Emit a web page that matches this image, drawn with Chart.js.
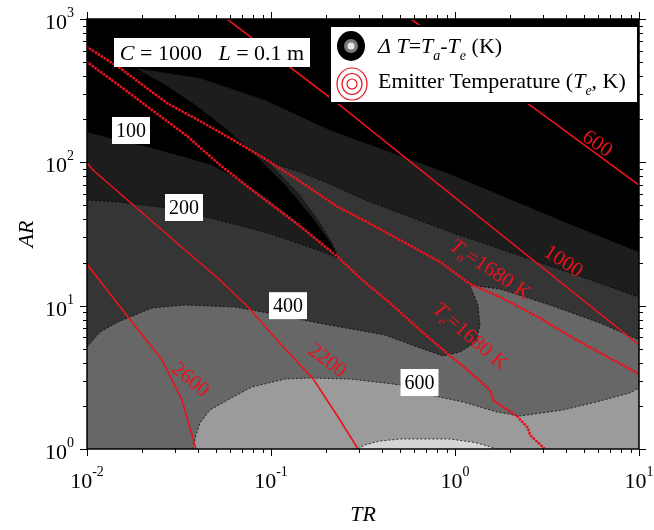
<!DOCTYPE html>
<html>
<head>
<meta charset="utf-8">
<script src="https://cdn.jsdelivr.net/npm/chart.js@4.4.1/dist/chart.umd.min.js"></script>
<style>
  html, body { margin: 0; padding: 0; background: #fff; }
  #wrap { width: 654px; height: 530px; }
</style>
</head>
<body>
<div id="wrap"><canvas id="chart"></canvas></div>
<script>
// axis ranges (TR on x, AR on y, both logarithmic)
const trRange = [0.01, 10];
const arRange = [1, 1000];
const trDecades = [-2, -1, 0, 1];
const arDecades = [0, 1, 2, 3];

// filled bands of ΔT = Ta - Te, each one "ΔT >= level", as [TR, AR] outlines
const zoneFrom100 = [
  [0.01, 162.8], [0.01474, 143.2], [0.02254, 125.9], [0.0341, 109.0], [0.0478, 95.8], [0.0679, 75.3],
  [0.0988, 54.6], [0.1437, 37.1], [0.1965, 26.1], [0.2314, 21.5],
  [0.2093, 27.8], [0.1629, 42.9], [0.1191, 69.5], [0.0818, 112.4], [0.0562, 173.6], [0.0387, 251.2],
  [0.0266, 346.4], [0.01824, 455],
  [0.0411, 387.5], [0.0927, 272.2], [0.2093, 168.1], [0.9397, 82.9], [3.722, 39.6], [10, 23.7],
  [10, 1], [0.01, 1]
];
const zoneFrom200 = [
  [0.01, 54.6], [0.01474, 52.9], [0.02755, 48.0], [0.0516, 39.6], [0.0963, 32.1], [0.18, 24.45], [0.2314, 21.5],
  [0.2174, 26.5], [0.18, 39.6], [0.1402, 61.1], [0.0963, 100.5],
  [0.1437, 85.6], [0.2093, 70.6], [0.3243, 54.6], [0.9397, 32.7], [3.281, 18.9], [10, 11.5],
  [10, 1], [0.01, 1]
];
const zoneFrom400 = [
  [0.01, 5.15], [0.01177, 6.55], [0.01474, 7.69], [0.02254, 9.63], [0.0341, 10.1], [0.0637, 9.79],
  [0.0963, 8.89], [0.18, 7.57], [0.4165, 6.24], [0.6452, 5.07], [0.8606, 4.46], [1.065, 4.75],
  [1.30, 5.58], [1.367, 7.33], [1.334, 10.1], [1.206, 13.9], [1.756, 13.07], [3.281, 10.1],
  [6.136, 7.57], [10, 5.76], [10, 1], [0.01, 1]
];
const zoneFrom600 = [
  [0.0377, 1], [0.0391, 1.252], [0.0411, 1.518], [0.0466, 1.871], [0.0622, 2.306], [0.0788, 2.708],
  [0.1191, 3.078], [0.1629, 3.13], [0.2688, 3.078], [0.4165, 2.888], [0.5024, 2.796], [0.7313, 2.381],
  [1.105, 2.128], [1.692, 1.812], [2.254, 1.699], [3.864, 1.871], [6.136, 2.162], [8.93, 2.459],
  [10, 2.666], [10, 1]
];
const zoneFrom800 = [
  [0.2971, 1], [0.3243, 1.066], [0.3912, 1.137], [0.5024, 1.174], [0.9397, 1.174], [1.284, 1.11], [1.713, 1]
];

// emitter temperature isolines (K)
const te600 = [[0.5766, 1000], [2.556, 251], [10, 69.5]];
const te1000 = [[0.0577, 1000], [0.2285, 259.4], [0.759, 75.3], [10, 5.32]];
const te2200 = [[0.01, 98.9], [0.01078, 88.4], [0.0341, 24.45], [0.0528, 15.1], [0.075, 9.79],
  [0.1079, 5.76], [0.1712, 3.03], [0.2371, 1.593], [0.2971, 1]];
const te2600 = [[0.01, 19.5], [0.0167, 8.34], [0.0256, 4.18], [0.0328, 2.197], [0.0372, 1.252], [0.0391, 1]];

// 1680 K lines (absorber and emitter)
const ta1680 = [[0.01, 637.7], [0.0151, 455], [0.0272, 259], [0.0411, 194.2], [0.0622, 143.2],
  [0.0951, 103.8], [0.1402, 75.3], [0.2314, 48.8], [0.3243, 38.96], [0.5024, 28.7], [0.8289, 20.2],
  [1.206, 14.17], [1.756, 11.49], [2.897, 8.2], [4.378, 5.95], [10, 3.336]];
const teLine1680 = [[0.01, 501], [0.0151, 340.9], [0.02254, 231.8], [0.03496, 152.7], [0.0528, 95.8],
  [0.0871, 58.2], [0.1437, 35.96], [0.2314, 21.85], [0.3046, 15.6], [0.4432, 10.44], [0.6452, 6.765],
  [0.8606, 4.91], [1.206, 3.444], [1.549, 2.58], [1.609, 2.197], [2.198, 1.672], [2.493, 1.401],
  [2.556, 1.252], [3.083, 1]];

// label anchors
const bandLabels = [
  { text: '100', at: [0.01734, 166.8] },
  { text: '200', at: [0.03366, 48.4] },
  { text: '400', at: [0.1237, 10.0] },
  { text: '600', at: [0.6414, 2.91] }
];
const isoLabels = [
  { parts: [{ t: '600' }], at: [5.912, 134.3], angle: 35 },
  { parts: [{ t: '1000' }], at: [3.864, 20.2], angle: 33 },
  { parts: [{ t: '2200' }], at: [0.2015, 4.11], angle: 37 },
  { parts: [{ t: '2600' }], at: [0.03628, 3.03], angle: 40 },
  { parts: [{ t: 'T', it: true }, { t: 'a', it: true, sub: true }, { t: '=1680 K' }], at: [1.55, 17.74], angle: 34 },
  { parts: [{ t: 'T', it: true }, { t: 'e', it: true, sub: true }, { t: '=1680 K' }], at: [1.206, 6.045], angle: 41 }
];

const RED = '#e8131d';
const SERIF = '"Liberation Serif", "Times New Roman", serif';

const pts = arr => arr.map(([x, y]) => ({ x, y }));

function zone(data, color, order) {
  return {
    data: pts(data), showLine: true, fill: 'shape', backgroundColor: color,
    borderColor: 'rgba(0,0,0,0.75)', borderWidth: 1, borderDash: [2, 2],
    pointRadius: 0, order
  };
}
function isoline(data, dotted) {
  return {
    data: pts(data), showLine: true, fill: false, borderColor: RED,
    borderWidth: dotted ? 2.8 : 1.6, borderDash: dotted ? [0.1, 3.4] : [],
    borderCapStyle: dotted ? 'round' : 'butt', pointRadius: 0, order: 1
  };
}

function fontOf(p, size) {
  const s = p.sub || p.sup ? Math.round(size * 0.64) : size;
  return (p.it ? 'italic ' : '') + s + 'px ' + SERIF;
}
function richWidth(ctx, parts, size) {
  let w = 0;
  for (const p of parts) { ctx.font = fontOf(p, size); w += ctx.measureText(p.t).width; }
  return w;
}
function drawRich(ctx, parts, x, y, size, align) {
  const w = richWidth(ctx, parts, size);
  let cx = align === 'center' ? x - w / 2 : align === 'right' ? x - w : x;
  ctx.textAlign = 'left';
  for (const p of parts) {
    ctx.font = fontOf(p, size);
    const dy = p.sub ? size * 0.32 : p.sup ? -size * 0.54 : 0;
    ctx.fillText(p.t, cx, y + dy);
    cx += ctx.measureText(p.t).width;
  }
}

const decorations = {
  id: 'decorations',
  beforeDatasetsDraw(chart) {
    const { ctx, chartArea: a } = chart;
    ctx.save();
    ctx.fillStyle = '#000';
    ctx.fillRect(a.left, a.top, a.right - a.left, a.bottom - a.top);
    ctx.restore();
  },
  afterDraw(chart) {
    const { ctx, chartArea: a, scales: { x, y } } = chart;
    ctx.save();

    // white boxed ΔT values
    ctx.textBaseline = 'middle';
    for (const lb of bandLabels) {
      const cx = x.getPixelForValue(lb.at[0]), cy = y.getPixelForValue(lb.at[1]);
      ctx.font = '20px ' + SERIF;
      const w = ctx.measureText(lb.text).width + 8;
      ctx.fillStyle = '#fff';
      ctx.fillRect(cx - w / 2, cy - 13.5, w, 27);
      ctx.fillStyle = '#000';
      ctx.textAlign = 'center';
      ctx.fillText(lb.text, cx, cy + 1);
    }

    // red isoline labels
    ctx.fillStyle = RED;
    for (const lb of isoLabels) {
      ctx.save();
      ctx.translate(x.getPixelForValue(lb.at[0]), y.getPixelForValue(lb.at[1]));
      ctx.rotate(lb.angle * Math.PI / 180);
      drawRich(ctx, lb.parts, 0, 0, 21, 'center');
      ctx.restore();
    }

    // frame and ticks
    ctx.strokeStyle = '#000';
    ctx.lineWidth = 1.5;
    ctx.strokeRect(a.left, a.top, a.right - a.left, a.bottom - a.top);
    ctx.lineWidth = 1;
    const seg = (x1, y1, x2, y2) => { ctx.beginPath(); ctx.moveTo(x1, y1); ctx.lineTo(x2, y2); ctx.stroke(); };
    for (const d of trDecades) {
      for (let m = 1; m <= 9; m++) {
        const v = m * Math.pow(10, d);
        if (v > trRange[1] * 1.0001) break;
        const p = Math.round(x.getPixelForValue(v)) + 0.5, len = m === 1 ? 7 : 4;
        seg(p, a.bottom, p, a.bottom + len);
        seg(p, a.top, p, a.top - len);
      }
    }
    for (const d of arDecades) {
      for (let m = 1; m <= 9; m++) {
        const v = m * Math.pow(10, d);
        if (v > arRange[1] * 1.0001) break;
        const p = Math.round(y.getPixelForValue(v)) + 0.5, len = m === 1 ? 7 : 4;
        seg(a.left, p, a.left - len, p);
        seg(a.right, p, a.right + len, p);
      }
    }

    // tick labels
    ctx.fillStyle = '#000';
    ctx.textBaseline = 'alphabetic';
    for (const d of trDecades) {
      drawRich(ctx, [{ t: '10' }, { t: String(d), sup: true }], x.getPixelForValue(Math.pow(10, d)), a.bottom + 39, 22, 'center');
    }
    for (const d of arDecades) {
      drawRich(ctx, [{ t: '10' }, { t: String(d), sup: true }], a.left - 13, y.getPixelForValue(Math.pow(10, d)) + 10, 22, 'right');
    }

    // axis titles
    drawRich(ctx, [{ t: 'TR', it: true }], (a.left + a.right) / 2, 521, 22, 'center');
    ctx.save();
    ctx.translate(33, 234);
    ctx.rotate(-Math.PI / 2);
    drawRich(ctx, [{ t: 'AR', it: true }], 0, 0, 22, 'center');
    ctx.restore();

    // parameter box
    ctx.fillStyle = '#fff';
    ctx.fillRect(114, 38, 196, 29);
    ctx.fillStyle = '#000';
    drawRich(ctx, [{ t: 'C', it: true }, { t: ' = 1000   ' }, { t: 'L', it: true }, { t: ' = 0.1 m' }], 212, 60, 22, 'center');

    // legend
    ctx.fillStyle = '#fff';
    ctx.fillRect(330, 26, 308, 77);
    ctx.lineWidth = 2;
    ctx.strokeStyle = '#000';
    ctx.strokeRect(330, 26, 308, 77);
    ctx.fillStyle = '#000';
    ctx.beginPath(); ctx.ellipse(351, 46, 14, 15, 0, 0, Math.PI * 2); ctx.fill();
    ctx.fillStyle = '#7a7a7a';
    ctx.beginPath(); ctx.ellipse(351, 46, 7, 7, 0, 0, Math.PI * 2); ctx.fill();
    ctx.fillStyle = '#e6e6e6';
    ctx.beginPath(); ctx.ellipse(351, 46, 3.5, 3.5, 0, 0, Math.PI * 2); ctx.fill();
    ctx.strokeStyle = RED;
    ctx.lineWidth = 1.2;
    for (const r of [[15, 16], [10, 10.5], [5, 5]]) {
      ctx.beginPath(); ctx.ellipse(352, 84, r[0], r[1], 0, 0, Math.PI * 2); ctx.stroke();
    }
    ctx.fillStyle = '#000';
    drawRich(ctx, [{ t: 'Δ T', it: true }, { t: '=' }, { t: 'T', it: true }, { t: 'a', it: true, sub: true },
      { t: '-' }, { t: 'T', it: true }, { t: 'e', it: true, sub: true }, { t: ' (K)' }], 378, 53, 22, 'left');
    drawRich(ctx, [{ t: 'Emitter Temperature (' }, { t: 'T', it: true }, { t: 'e', it: true, sub: true },
      { t: ', K)' }], 378, 88, 22, 'left');

    ctx.restore();
  }
};

new Chart(document.getElementById('chart'), {
  type: 'scatter',
  data: {
    datasets: [
      isoline(ta1680, true),
      isoline(teLine1680, true),
      isoline(te600, false),
      isoline(te1000, false),
      isoline(te2200, false),
      isoline(te2600, false),
      zone(zoneFrom800, '#d6d6d6', 6),
      zone(zoneFrom600, '#9b9b9b', 7),
      zone(zoneFrom400, '#676767', 8),
      zone(zoneFrom200, '#353535', 9),
      zone(zoneFrom100, '#1d1d1d', 10)
    ]
  },
  options: {
    responsive: true,
    maintainAspectRatio: false,
    animation: false,
    layout: { padding: { left: 87, top: 19, right: 15, bottom: 81 } },
    scales: {
      x: { type: 'logarithmic', min: trRange[0], max: trRange[1], display: false },
      y: { type: 'logarithmic', min: arRange[0], max: arRange[1], display: false }
    },
    plugins: { legend: { display: false }, tooltip: { enabled: false } }
  },
  plugins: [decorations]
});
</script>
</body>
</html>
